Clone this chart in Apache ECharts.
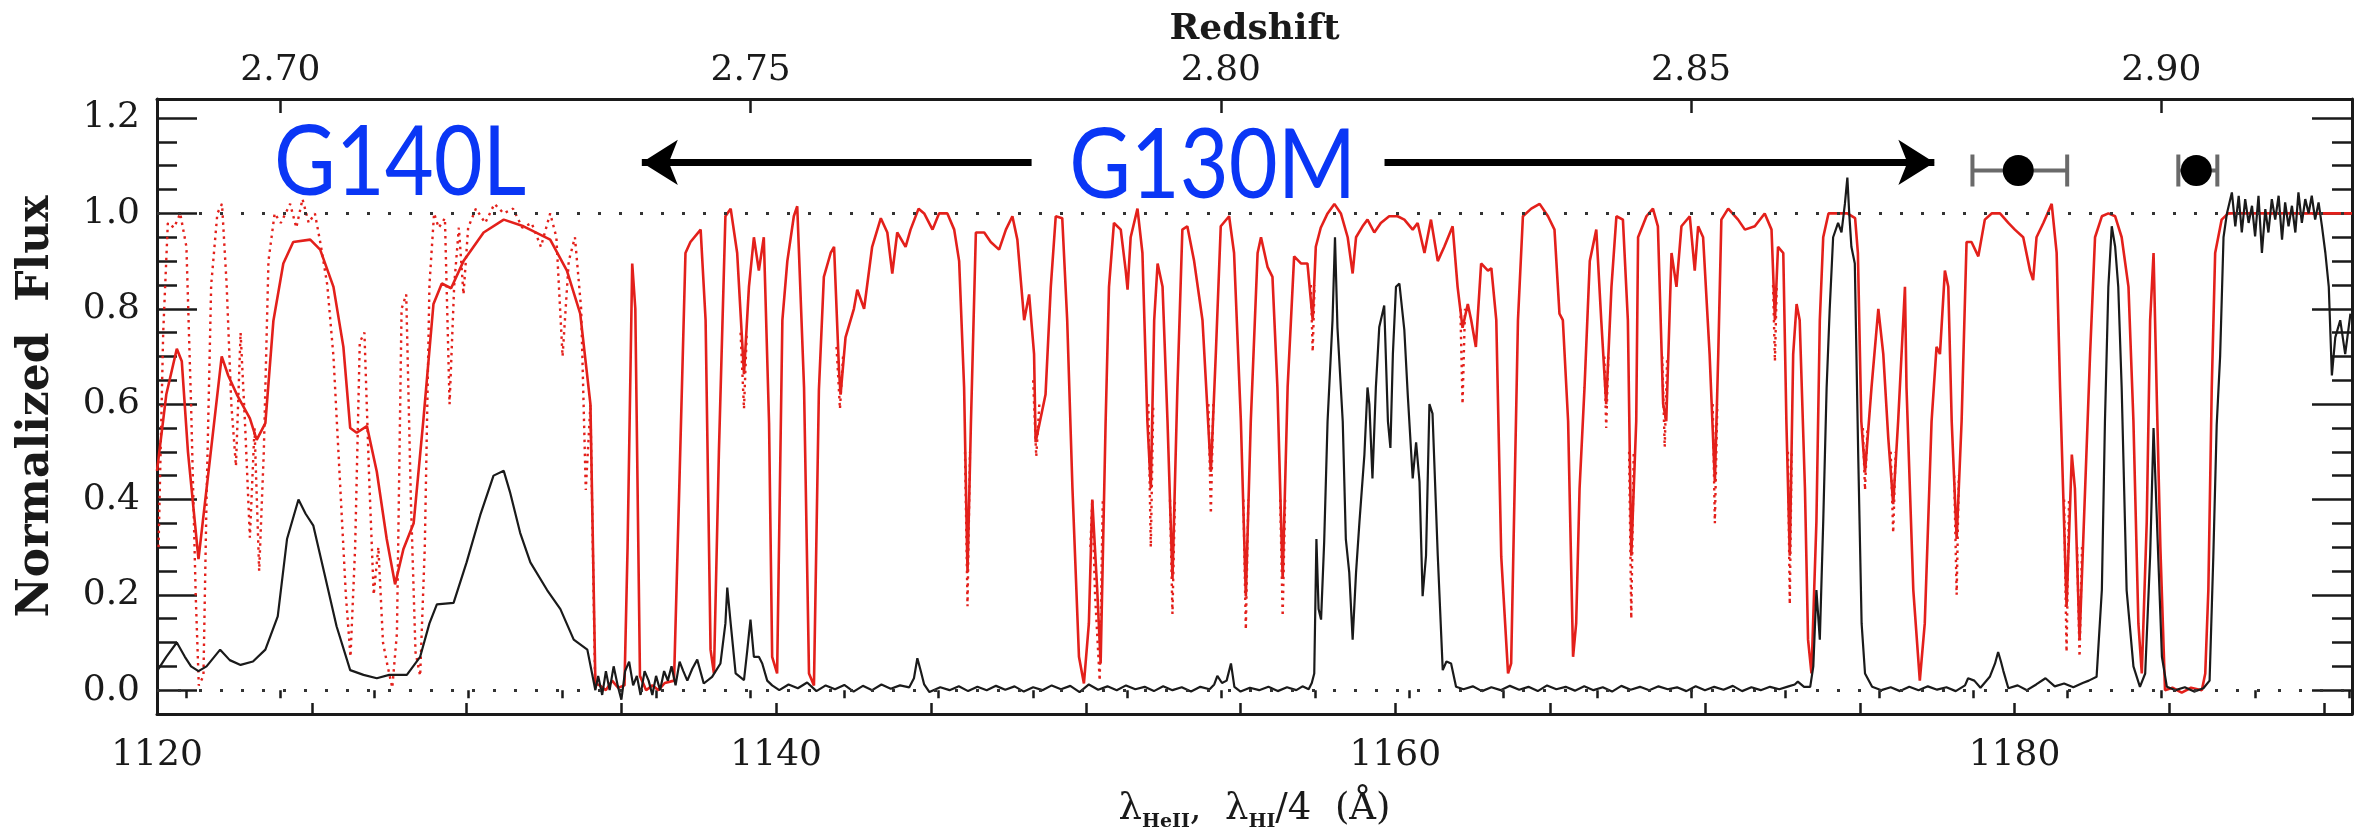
<!DOCTYPE html>
<html>
<head>
<meta charset="utf-8">
<title>He II and H I transmission</title>
<script src="https://cdn.jsdelivr.net/npm/echarts@6/dist/echarts.min.js"></script>
<style>
  html, body { margin: 0; padding: 0; background: #ffffff; }
  #chart { width: 2362px; height: 828px; }
</style>
</head>
<body>
<div id="chart"></div>
<script>
// He II Lyman-alpha rest wavelength (Angstrom); the top axis is z = lambda / HEII_REST - 1
const HEII_REST = 303.78;

const lambdaRange = [1120, 1190.9];
const fluxRange = [-0.05, 1.24];

const lambdaTicks = [1120, 1140, 1160, 1180];
const redshiftTicks = [2.70, 2.75, 2.80, 2.85, 2.90];
const fluxTicks = [0.0, 0.2, 0.4, 0.6, 0.8, 1.0, 1.2];
const guideLevels = [0, 1];

// observed He II flux (G140L below ~1134 A, G130M above)
const observedFlux = [
  [1120.0,0.04],[1120.3,0.07],[1120.64,0.10],[1120.9,0.07],[1121.1,0.05],[1121.34,0.04],[1121.6,0.05],
  [1122.04,0.085],[1122.35,0.063],[1122.7,0.053],[1123.1,0.06],[1123.5,0.085],[1123.9,0.155],[1124.2,0.317],
  [1124.57,0.40],[1124.8,0.37],[1125.05,0.345],[1125.4,0.247],[1125.8,0.134],[1126.24,0.042],[1126.67,0.032],
  [1127.1,0.025],[1127.5,0.032],[1128.07,0.032],[1128.5,0.07],[1128.8,0.14],[1129.04,0.18],[1129.58,0.183],
  [1130.0,0.268],[1130.44,0.367],[1130.87,0.45],[1131.2,0.46],[1131.4,0.416],[1131.73,0.33],[1132.06,0.268],
  [1132.6,0.21],[1133.03,0.17],[1133.46,0.106],[1133.9,0.085],[1134.16,0.0],
  [1134.25,0.03],[1134.38,-0.01],[1134.5,0.04],[1134.62,0.0],[1134.75,0.05],[1134.88,0.01],[1135.0,-0.02],
  [1135.12,0.04],[1135.25,0.06],[1135.38,0.01],[1135.5,0.03],[1135.62,-0.01],[1135.75,0.04],[1135.88,0.02],
  [1136.0,-0.01],[1136.12,0.03],[1136.25,0.0],[1136.38,0.04],[1136.5,0.02],[1136.62,0.05],[1136.75,0.01],
  [1136.88,0.06],[1137.0,0.04],[1137.13,0.02],[1137.29,0.045],[1137.45,0.064],[1137.66,0.014],[1137.93,0.028],
  [1138.2,0.056],[1138.36,0.14],[1138.42,0.215],[1138.53,0.14],[1138.69,0.035],[1138.96,0.021],[1139.06,0.08],
  [1139.17,0.148],[1139.28,0.07],[1139.44,0.07],[1139.55,0.056],[1139.71,0.02],[1139.87,0.01],
  [1140.1,0.0],[1140.4,0.012],[1140.7,0.004],[1141.0,0.016],[1141.3,-0.002],[1141.6,0.01],[1141.9,0.002],
  [1142.2,0.011],[1142.5,-0.003],[1142.8,0.009],[1143.1,0.0],[1143.4,0.012],[1143.7,0.003],[1144.0,0.01],
  [1144.3,0.006],[1144.45,0.025],[1144.56,0.067],[1144.67,0.04],[1144.78,0.012],[1144.95,-0.004],
  [1145.3,0.006],[1145.6,0.0],[1145.9,0.008],[1146.2,-0.002],[1146.5,0.007],[1146.8,0.0],[1147.1,0.009],
  [1147.4,0.001],[1147.7,0.008],[1148.0,-0.003],[1148.3,0.006],[1148.6,0.0],[1148.9,0.01],[1149.2,0.002],
  [1149.5,0.009],[1149.8,-0.004],[1150.1,0.012],[1150.4,0.001],[1150.7,0.008],[1151.0,0.0],[1151.3,0.01],
  [1151.6,0.002],[1151.9,0.007],[1152.2,-0.002],[1152.5,0.008],[1152.8,0.0],[1153.1,0.006],[1153.4,-0.003],
  [1153.7,0.007],[1154.0,0.002],[1154.15,0.012],[1154.25,0.03],[1154.4,0.015],[1154.55,0.02],[1154.69,0.056],
  [1154.8,0.007],[1155.0,-0.003],[1155.3,0.005],[1155.6,0.0],[1155.9,0.007],[1156.2,-0.002],[1156.5,0.006],
  [1156.8,0.0],[1157.0,0.008],[1157.2,0.002],[1157.3,0.015],[1157.38,0.035],[1157.45,0.317],[1157.52,0.17],
  [1157.6,0.148],[1157.7,0.31],[1157.81,0.564],[1157.97,0.776],[1158.05,0.95],[1158.13,0.76],[1158.3,0.564],
  [1158.4,0.317],[1158.51,0.247],[1158.62,0.106],[1158.73,0.247],[1158.84,0.353],[1159.0,0.494],[1159.1,0.635],
  [1159.16,0.6],[1159.26,0.444],[1159.37,0.635],[1159.48,0.762],[1159.64,0.807],[1159.76,0.564],[1159.84,0.508],
  [1159.92,0.705],[1160.02,0.846],[1160.13,0.853],[1160.29,0.755],[1160.4,0.62],[1160.56,0.444],[1160.67,0.52],
  [1160.78,0.437],[1160.88,0.197],[1160.99,0.282],[1161.1,0.6],[1161.2,0.58],[1161.37,0.282],[1161.53,0.042],
  [1161.65,0.06],[1161.8,0.056],[1161.96,0.007],
  [1162.2,0.002],[1162.5,0.008],[1162.8,-0.002],[1163.1,0.006],[1163.4,0.0],[1163.7,0.009],[1164.0,0.001],
  [1164.3,0.007],[1164.6,-0.002],[1164.9,0.01],[1165.2,0.002],[1165.5,0.007],[1165.8,-0.001],[1166.1,0.008],
  [1166.4,0.0],[1166.7,0.006],[1167.0,-0.003],[1167.3,0.009],[1167.6,0.001],[1167.9,0.007],[1168.2,0.0],
  [1168.5,0.008],[1168.8,0.002],[1169.1,0.006],[1169.4,-0.002],[1169.7,0.008],[1170.0,0.0],[1170.3,0.007],
  [1170.6,0.001],[1170.9,0.009],[1171.2,-0.002],[1171.5,0.006],[1171.8,0.0],[1172.1,0.007],[1172.4,0.002],
  [1172.7,0.008],[1172.9,0.012],[1173.0,0.018],[1173.2,0.007],[1173.4,0.007],[1173.5,0.05],[1173.6,0.21],
  [1173.71,0.106],[1173.82,0.353],[1173.93,0.635],[1174.03,0.8],[1174.14,0.95],[1174.3,0.98],[1174.41,0.96],
  [1174.52,1.02],[1174.6,1.075],[1174.66,1.0],[1174.73,0.93],[1174.84,0.895],[1174.95,0.494],[1175.06,0.14],
  [1175.17,0.035],[1175.4,0.007],[1175.7,0.0],[1176.0,0.006],[1176.3,-0.002],[1176.6,0.007],[1176.9,0.0],
  [1177.2,0.008],[1177.5,0.001],[1177.8,0.006],[1178.1,-0.002],[1178.4,0.01],[1178.5,0.025],[1178.7,0.02],
  [1178.9,0.005],[1179.2,0.028],[1179.37,0.056],[1179.47,0.08],[1179.56,0.06],[1179.64,0.04],[1179.8,0.004],
  [1180.1,0.01],[1180.4,0.0],[1180.7,0.012],[1181.0,0.025],[1181.3,0.008],[1181.6,0.014],[1181.9,0.006],
  [1182.2,0.015],[1182.4,0.02],[1182.65,0.028],[1182.82,0.21],[1182.92,0.564],[1183.03,0.846],[1183.14,0.973],
  [1183.25,0.93],[1183.35,0.846],[1183.46,0.635],[1183.62,0.21],[1183.84,0.05],[1184.05,0.007],[1184.22,0.035],
  [1184.38,0.282],[1184.49,0.55],[1184.6,0.353],[1184.76,0.07],[1184.92,0.007],[1185.2,0.0],[1185.5,0.006],
  [1185.8,-0.003],[1186.1,0.004],[1186.3,0.02],[1186.42,0.28],[1186.53,0.557],[1186.64,0.7],[1186.75,0.95],
  [1186.86,1.0],[1187.02,1.044],[1187.13,0.973],[1187.24,1.037],[1187.34,0.96],[1187.45,1.03],[1187.56,0.98],
  [1187.67,1.016],[1187.77,0.952],[1187.88,1.037],[1187.99,0.917],[1188.1,1.009],[1188.2,0.96],[1188.31,1.03],
  [1188.42,0.987],[1188.53,1.037],[1188.64,0.945],[1188.74,1.023],[1188.85,0.973],[1188.96,1.016],[1189.07,0.96],
  [1189.17,1.044],[1189.28,0.98],[1189.39,1.03],[1189.5,1.0],[1189.6,1.037],[1189.71,0.987],[1189.82,1.023],
  [1189.93,0.973],[1190.04,0.917],[1190.15,0.846],[1190.25,0.66],[1190.36,0.74],[1190.52,0.776],[1190.68,0.705],
  [1190.85,0.79]
];

// H I forest scaled to He II, smoothed to the instrument resolution
const modelSmoothed = [
  [1120.0,0.46],[1120.3,0.62],[1120.64,0.716],[1120.8,0.69],[1121.0,0.5],[1121.34,0.275],[1121.72,0.49],
  [1122.09,0.70],[1122.3,0.66],[1122.58,0.62],[1123.0,0.57],[1123.22,0.525],[1123.5,0.56],[1123.76,0.775],
  [1124.08,0.895],[1124.4,0.94],[1124.95,0.945],[1125.27,0.924],[1125.7,0.846],[1126.02,0.72],[1126.24,0.55],
  [1126.45,0.54],[1126.78,0.554],[1127.1,0.458],[1127.42,0.317],[1127.69,0.222],[1127.96,0.296],[1128.29,0.35],
  [1128.6,0.564],[1128.93,0.81],[1129.2,0.853],[1129.5,0.843],[1129.9,0.9],[1130.55,0.96],[1131.2,0.987],
  [1131.84,0.973],[1132.7,0.945],[1133.24,0.88],[1133.67,0.79],[1134.0,0.6],[1134.16,0.014],
  [1134.3,0.01],[1134.5,0.0],[1134.7,0.02],[1134.9,0.005],[1135.1,0.01],[1135.2,0.3],[1135.35,0.895],
  [1135.45,0.8],[1135.6,0.03],[1135.8,0.0],[1136.0,0.01],[1136.2,0.0],[1136.4,0.015],[1136.7,0.02],
  [1136.86,0.4],[1137.07,0.917],[1137.23,0.94],[1137.56,0.966],[1137.72,0.776],[1137.88,0.085],[1137.99,0.035],
  [1138.15,0.5],[1138.36,0.994],[1138.53,1.01],[1138.74,0.917],[1138.96,0.663],[1139.12,0.846],[1139.28,0.95],
  [1139.44,0.88],[1139.6,0.95],[1139.77,0.56],[1139.87,0.07],[1140.03,0.035],[1140.2,0.776],[1140.36,0.9],
  [1140.57,0.994],[1140.68,1.015],[1140.9,0.635],[1141.06,0.035],[1141.22,0.01],[1141.38,0.63],[1141.54,0.867],
  [1141.76,0.917],[1141.87,0.93],[1142.03,0.67],[1142.08,0.62],[1142.24,0.74],[1142.51,0.8],[1142.62,0.84],
  [1142.84,0.8],[1143.1,0.93],[1143.38,0.99],[1143.59,0.96],[1143.75,0.874],[1143.91,0.96],[1144.18,0.93],
  [1144.34,0.966],[1144.6,1.01],[1144.78,1.0],[1145.05,0.966],[1145.26,1.0],[1145.53,1.0],[1145.75,0.966],
  [1145.91,0.9],[1146.07,0.635],[1146.18,0.247],[1146.29,0.56],[1146.45,0.96],[1146.72,0.96],[1146.93,0.94],
  [1147.2,0.924],[1147.42,0.966],[1147.63,0.994],[1147.79,0.945],[1148.01,0.776],[1148.17,0.83],[1148.33,0.705],
  [1148.38,0.52],[1148.7,0.62],[1148.87,0.846],[1149.03,0.994],[1149.24,0.99],[1149.4,0.776],[1149.57,0.423],
  [1149.78,0.07],[1149.94,0.014],[1150.1,0.14],[1150.21,0.40],[1150.37,0.21],[1150.48,0.056],[1150.64,0.56],
  [1150.75,0.846],[1150.91,0.98],[1151.13,0.966],[1151.29,0.88],[1151.35,0.84],[1151.45,0.95],[1151.67,1.01],
  [1151.83,0.917],[1151.99,0.564],[1152.1,0.423],[1152.21,0.776],[1152.32,0.895],[1152.48,0.846],[1152.64,0.564],
  [1152.8,0.233],[1152.96,0.635],[1153.12,0.966],[1153.28,0.973],[1153.5,0.9],[1153.77,0.776],[1154.04,0.458],
  [1154.2,0.705],[1154.36,0.973],[1154.63,0.994],[1154.79,0.917],[1155.01,0.564],[1155.17,0.197],[1155.33,0.564],
  [1155.55,0.917],[1155.66,0.95],[1155.87,0.888],[1156.03,0.867],[1156.19,0.635],[1156.36,0.233],[1156.52,0.635],
  [1156.73,0.91],[1156.95,0.895],[1157.16,0.895],[1157.33,0.776],[1157.43,0.93],[1157.59,0.97],[1157.81,1.0],
  [1158.03,1.02],[1158.24,1.0],[1158.46,0.95],[1158.62,0.874],[1158.73,0.95],[1158.94,0.973],[1159.1,0.987],
  [1159.32,0.96],[1159.53,0.98],[1159.8,0.994],[1160.07,0.994],[1160.29,0.987],[1160.56,0.966],[1160.72,0.98],
  [1160.94,0.917],[1161.15,0.987],[1161.37,0.9],[1161.58,0.93],[1161.85,0.973],[1162.01,0.846],[1162.17,0.76],
  [1162.34,0.81],[1162.45,0.776],[1162.6,0.72],[1162.77,0.895],[1162.99,0.88],[1163.1,0.885],[1163.26,0.776],
  [1163.42,0.28],[1163.64,0.035],[1163.74,0.056],[1163.96,0.776],[1164.12,0.994],[1164.39,1.01],[1164.66,1.02],
  [1164.93,0.994],[1165.14,0.966],[1165.3,0.79],[1165.41,0.776],[1165.58,0.564],[1165.74,0.07],[1165.84,0.14],
  [1165.95,0.423],[1166.11,0.635],[1166.28,0.9],[1166.49,0.966],[1166.65,0.776],[1166.81,0.6],[1166.98,0.846],
  [1167.14,0.994],[1167.35,0.987],[1167.51,0.776],[1167.62,0.282],[1167.78,0.564],[1167.84,0.95],[1168.11,0.994],
  [1168.32,1.01],[1168.48,0.973],[1168.65,0.6],[1168.75,0.564],[1168.92,0.917],[1169.08,0.846],[1169.24,0.973],
  [1169.51,0.994],[1169.67,0.88],[1169.78,0.973],[1169.94,0.95],[1170.15,0.705],[1170.32,0.437],[1170.43,0.705],
  [1170.53,0.987],[1170.75,1.01],[1171.07,0.987],[1171.29,0.966],[1171.61,0.973],[1171.93,1.0],[1172.15,0.966],
  [1172.26,0.776],[1172.36,0.93],[1172.53,0.917],[1172.63,0.564],[1172.74,0.282],[1172.85,0.705],[1172.96,0.81],
  [1173.06,0.776],[1173.23,0.423],[1173.33,0.106],[1173.44,0.035],[1173.6,0.353],[1173.71,0.776],[1173.82,0.95],
  [1173.99,1.0],[1174.3,1.0],[1174.6,1.0],[1174.85,0.99],[1174.94,0.917],[1175.05,0.564],[1175.17,0.458],
  [1175.38,0.635],[1175.6,0.8],[1175.76,0.705],[1175.92,0.53],[1176.08,0.39],[1176.24,0.564],[1176.46,0.846],
  [1176.51,0.635],[1176.73,0.21],[1176.94,0.02],[1177.1,0.14],[1177.32,0.564],[1177.48,0.72],[1177.59,0.705],
  [1177.75,0.88],[1177.86,0.846],[1177.97,0.564],[1178.13,0.317],[1178.29,0.564],[1178.45,0.94],[1178.61,0.94],
  [1178.83,0.91],[1179.04,0.987],[1179.26,1.0],[1179.53,1.0],[1179.8,0.98],[1180.01,0.966],[1180.28,0.95],
  [1180.5,0.88],[1180.6,0.86],[1180.71,0.95],[1180.93,0.98],[1181.2,1.02],[1181.36,0.917],[1181.47,0.635],
  [1181.68,0.176],[1181.85,0.494],[1181.95,0.423],[1182.1,0.106],[1182.28,0.423],[1182.44,0.705],[1182.6,0.95],
  [1182.82,0.994],[1183.03,1.0],[1183.25,0.994],[1183.46,0.95],[1183.68,0.846],[1183.84,0.564],[1184.0,0.14],
  [1184.11,0.035],[1184.27,0.353],[1184.38,0.776],[1184.49,0.917],[1184.6,0.6],[1184.71,0.3],[1184.86,0.0],
  [1185.1,0.005],[1185.4,-0.005],[1185.7,0.005],[1186.05,0.0],[1186.16,0.035],[1186.26,0.21],[1186.37,0.635],
  [1186.48,0.917],[1186.69,0.987],[1186.9,1.0],[1187.5,1.0],[1188.0,1.0],[1189.0,1.0],[1190.0,1.0],[1190.9,1.0]
];

// unsmoothed model: full G140L stretch, then the line cores that dip below the smoothed curve
const modelRaw = [
  [1120.05,0.30],[1120.2,0.75],[1120.35,0.98],[1120.55,0.97],[1120.75,1.0],[1120.95,0.93],[1121.1,0.6],
  [1121.25,0.2],[1121.35,0.01],[1121.5,0.03],[1121.6,0.4],[1121.75,0.85],[1121.95,1.0],[1122.1,1.02],
  [1122.25,0.85],[1122.4,0.6],[1122.55,0.47],[1122.7,0.75],[1122.85,0.55],[1123.0,0.32],[1123.15,0.55],
  [1123.3,0.25],[1123.45,0.5],[1123.6,0.9],[1123.8,1.0],[1124.0,0.98],[1124.3,1.02],[1124.5,0.97],
  [1124.7,1.03],[1124.9,0.98],[1125.1,1.0],[1125.3,0.93],[1125.5,0.85],[1125.7,0.7],[1125.9,0.45],
  [1126.1,0.2],[1126.25,0.07],[1126.4,0.3],[1126.55,0.73],[1126.7,0.75],[1126.85,0.45],[1127.0,0.2],
  [1127.15,0.3],[1127.3,0.1],[1127.45,0.05],[1127.6,0.005],[1127.75,0.12],[1127.9,0.8],[1128.05,0.83],
  [1128.2,0.4],[1128.35,0.08],[1128.5,0.03],[1128.65,0.3],[1128.8,0.85],[1128.95,1.0],[1129.1,0.97],
  [1129.3,0.99],[1129.45,0.6],[1129.6,0.85],[1129.75,0.97],[1129.9,0.83],[1130.05,0.97],[1130.3,1.01],
  [1130.6,0.98],[1130.9,1.02],[1131.2,1.0],[1131.5,1.01],[1131.8,0.97],[1132.1,0.98],[1132.4,0.93],
  [1132.7,1.0],[1132.9,0.95],[1133.1,0.7],[1133.3,0.9],[1133.5,0.95],[1133.7,0.8],[1133.85,0.42],
  [1134.0,0.6],[1134.15,0.02],
  null,[1138.85,0.75],[1138.96,0.59],[1139.05,0.75],
  null,[1141.95,0.72],[1142.06,0.59],[1142.16,0.7],
  null,[1146.1,0.5],[1146.18,0.176],[1146.26,0.5],
  null,[1148.3,0.65],[1148.4,0.49],[1148.5,0.6],
  null,[1150.15,0.3],[1150.21,0.4],[1150.3,0.2],[1150.45,0.02],[1150.55,0.4],
  null,[1152.02,0.6],[1152.1,0.3],[1152.18,0.6],
  null,[1152.72,0.4],[1152.8,0.16],[1152.88,0.4],
  null,[1153.96,0.6],[1154.04,0.37],[1154.12,0.6],
  null,[1155.09,0.4],[1155.17,0.127],[1155.25,0.4],
  null,[1156.28,0.4],[1156.36,0.155],[1156.44,0.4],
  null,[1157.27,0.85],[1157.33,0.71],[1157.39,0.85],
  null,[1162.1,0.8],[1162.17,0.6],[1162.25,0.8],
  null,[1166.75,0.7],[1166.81,0.55],[1166.88,0.7],
  null,[1167.55,0.5],[1167.62,0.15],[1167.7,0.5],
  null,[1168.62,0.7],[1168.7,0.51],[1168.78,0.7],
  null,[1170.25,0.6],[1170.32,0.35],[1170.4,0.6],
  null,[1172.2,0.85],[1172.26,0.69],[1172.32,0.85],
  null,[1172.68,0.5],[1172.74,0.18],[1172.8,0.5],
  null,[1175.1,0.55],[1175.17,0.42],[1175.25,0.55],
  null,[1176.0,0.5],[1176.08,0.33],[1176.16,0.5],
  null,[1178.05,0.45],[1178.13,0.2],[1178.2,0.45],
  null,[1181.6,0.4],[1181.68,0.08],[1181.76,0.4],
  null,[1182.02,0.3],[1182.1,0.07],[1182.18,0.3],
  null,[1186.9,1.0],[1188.0,1.0],[1189.0,1.0],[1190.0,1.0],[1190.9,1.0]
];

// quasar positions on the wavelength scale: [lambda, level, lambda low, lambda high]
const quasarMarks = [
  [1180.12, 1.09, 1178.64, 1181.70],
  [1185.87, 1.09, 1185.29, 1186.55]
];

// grating coverage arrows at a common level: [tail, head]
const arrowLevel = 1.107;
const gratingArrows = [[1148.25, 1135.66], [1159.65, 1177.41]];
const gratingLabels = [
  { text: 'G140L', lambda: 1127.85, level: 1.103 },
  { text: 'G130M', lambda: 1154.10, level: 1.097 }
];

const ink = '#1a1a1a';
const red = '#e3201b';
const serif = 'DejaVu Serif';
const zRange = lambdaRange.map(l => l / HEII_REST - 1);

const pick = (list, v, digits) => {
  const hit = list.find(t => Math.abs(t - v) < 1e-6);
  return hit === undefined ? '' : hit.toFixed(digits);
};

const frameLine = { show: true, onZero: false, lineStyle: { color: ink, width: 3 } };
const tickStyle = { color: ink, width: 2.5 };

const chart = echarts.init(document.getElementById('chart'), null, { renderer: 'canvas' });

const option = {
  animation: false,
  backgroundColor: '#ffffff',
  grid: { left: 157, right: 10, top: 99, bottom: 114, containLabel: false, outerBoundsMode: 'none' },
  xAxis: [
    {
      type: 'value', position: 'bottom', min: lambdaRange[0], max: lambdaRange[1], interval: 5,
      axisLine: frameLine,
      axisTick: { inside: true, length: 11, lineStyle: tickStyle },
      axisLabel: { margin: 24, fontFamily: serif, fontSize: 36, color: ink,
                   formatter: v => pick(lambdaTicks, v, 0) },
      splitLine: { show: false },
      name: '{l|λ}{s|HeII}{l|,  λ}{s|HI}{l|/4  (Å)}',
      nameLocation: 'middle', nameGap: 72,
      nameTextStyle: {
        fontFamily: serif, fontSize: 36, color: ink,
        rich: {
          l: { fontFamily: serif, fontSize: 37, color: ink, lineHeight: 46 },
          s: { fontFamily: serif, fontSize: 19, fontWeight: 'bold', color: ink, verticalAlign: 'bottom', lineHeight: 19 }
        }
      }
    },
    {
      type: 'value', position: 'top', min: zRange[0], max: zRange[1], minInterval: 0.05, maxInterval: 0.05,
      axisLine: frameLine,
      axisTick: { inside: true, length: 14, lineStyle: tickStyle },
      axisLabel: { margin: 10, fontFamily: serif, fontSize: 36, color: ink,
                   showMinLabel: false, showMaxLabel: false,
                   formatter: v => pick(redshiftTicks, v, 2) },
      splitLine: { show: false },
      name: 'Redshift', nameLocation: 'middle', nameGap: 48,
      nameTextStyle: { fontFamily: serif, fontWeight: 'bold', fontSize: 36, color: ink }
    },
    {
      type: 'value', position: 'top', min: zRange[0], max: zRange[1], minInterval: 0.01, maxInterval: 0.01,
      axisLine: { show: false },
      axisTick: { inside: true, length: 8, lineStyle: tickStyle },
      axisLabel: { show: false }, splitLine: { show: false }
    }
  ],
  yAxis: [
    {
      type: 'value', position: 'left', min: fluxRange[0], max: fluxRange[1], minInterval: 0.2, maxInterval: 0.2,
      axisLine: frameLine,
      axisTick: { inside: true, length: 40, lineStyle: tickStyle },
      axisLabel: { margin: 17, fontFamily: serif, fontSize: 36, color: ink,
                   showMinLabel: false, showMaxLabel: false,
                   formatter: v => pick(fluxTicks, v, 1) },
      splitLine: { show: false },
      name: 'Normalized  Flux', nameLocation: 'middle', nameGap: 98, nameRotate: 90,
      nameTextStyle: { fontFamily: serif, fontWeight: 'bold', fontSize: 44, color: ink }
    },
    {
      type: 'value', position: 'left', min: fluxRange[0], max: fluxRange[1], interval: 0.05,
      axisLine: { show: false },
      axisTick: { inside: true, length: 20, lineStyle: tickStyle },
      axisLabel: { show: false }, splitLine: { show: false }
    },
    {
      type: 'value', position: 'right', min: fluxRange[0], max: fluxRange[1], minInterval: 0.2, maxInterval: 0.2,
      axisLine: frameLine,
      axisTick: { inside: true, length: 40, lineStyle: tickStyle },
      axisLabel: { show: false }, splitLine: { show: false }
    },
    {
      type: 'value', position: 'right', min: fluxRange[0], max: fluxRange[1], interval: 0.05,
      axisLine: { show: false },
      axisTick: { inside: true, length: 20, lineStyle: tickStyle },
      axisLabel: { show: false }, splitLine: { show: false }
    }
  ],
  series: [
    {
      name: 'model (unsmoothed)', type: 'line', data: modelRaw, showSymbol: false, symbol: 'none',
      connectNulls: false, z: 2,
      lineStyle: { color: red, width: 2.4, type: [2.5, 4.5] }
    },
    {
      name: 'model (smoothed)', type: 'line', data: modelSmoothed, showSymbol: false, symbol: 'none', z: 3,
      lineStyle: { color: red, width: 2.6 }
    },
    {
      name: 'He II flux', type: 'line', data: observedFlux, showSymbol: false, symbol: 'none', z: 4,
      lineStyle: { color: ink, width: 2.2 },
      markLine: {
        silent: true, symbol: 'none', label: { show: false },
        lineStyle: { color: '#333', width: 3, type: [3, 18] },
        data: guideLevels.map(v => ({ yAxis: v }))
      }
    },
    {
      name: 'error bars', type: 'custom', z: 5,
      data: quasarMarks,
      encode: { x: 0, y: 1 },
      renderItem: (params, api) => {
        const y = api.value(1);
        const a = api.coord([api.value(2), y]);
        const b = api.coord([api.value(3), y]);
        const cap = 16;
        const st = { stroke: '#6a6a6a', lineWidth: 4 };
        return {
          type: 'group',
          children: [
            { type: 'line', shape: { x1: a[0], y1: a[1], x2: b[0], y2: b[1] }, style: st },
            { type: 'line', shape: { x1: a[0], y1: a[1] - cap, x2: a[0], y2: a[1] + cap }, style: st },
            { type: 'line', shape: { x1: b[0], y1: b[1] - cap, x2: b[0], y2: b[1] + cap }, style: st }
          ]
        };
      }
    },
    {
      name: 'quasars', type: 'scatter', z: 6,
      data: quasarMarks.map(d => [d[0], d[1]]),
      symbol: 'circle', symbolSize: 31,
      itemStyle: { color: '#000000', opacity: 1 },
      markLine: {
        silent: true, label: { show: false },
        symbol: ['none', 'arrow'], symbolSize: [34, 36],
        lineStyle: { color: '#000000', width: 7, type: 'solid', opacity: 1 },
        data: gratingArrows.map(([tail, head]) => [
          { coord: [tail, arrowLevel] }, { coord: [head, arrowLevel] }
        ])
      }
    }
  ]
};

chart.setOption(option);

// grating names, placed from their wavelength / level positions
const labelGraphics = gratingLabels.map(g => {
  const p = chart.convertToPixel({ xAxisIndex: 0, yAxisIndex: 0 }, [g.lambda, g.level]);
  return {
    type: 'text', x: p[0], y: p[1], scaleX: 0.88, z: 20,
    style: { text: g.text, font: '96px Lato', fill: '#0a36f5', align: 'center', verticalAlign: 'middle' }
  };
});
chart.setOption({ graphic: labelGraphics });
</script>
</body>
</html>
